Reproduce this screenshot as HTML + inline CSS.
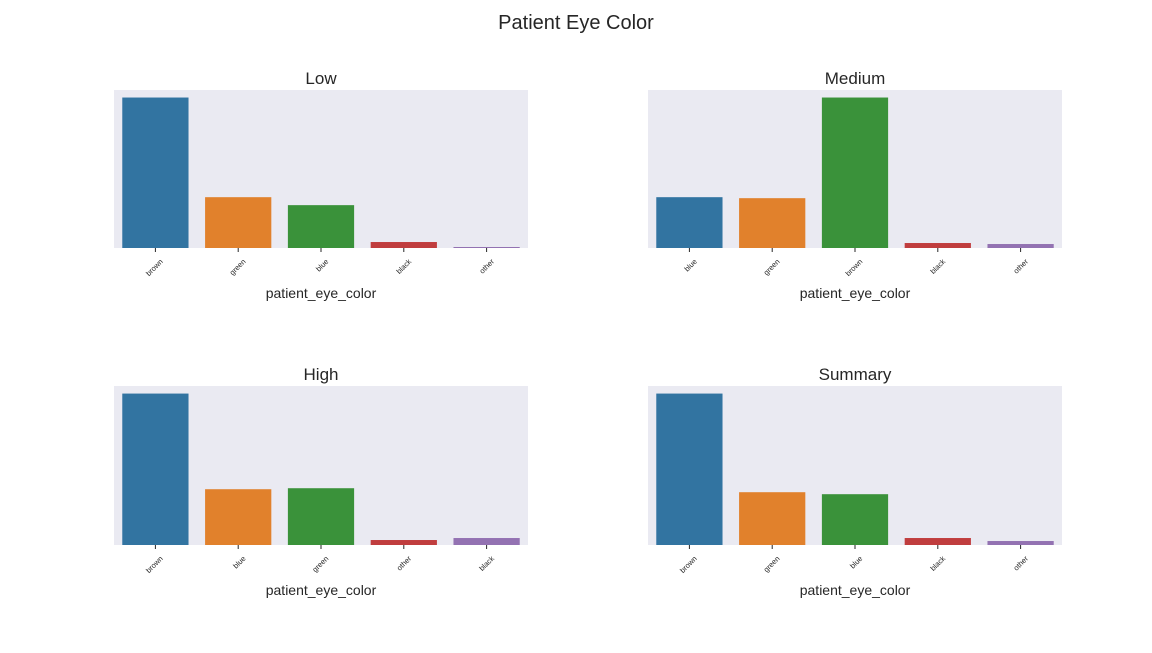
<!DOCTYPE html>
<html><head><meta charset="utf-8"><style>
body{margin:0;background:#fff;font-family:"Liberation Sans",Arial,sans-serif}
</style></head><body>
<svg id="chart" width="1152" height="648" xmlns="http://www.w3.org/2000/svg">
<text x="576" y="29" text-anchor="middle" font-size="20" fill="#262626" font-family="Liberation Sans, sans-serif">Patient Eye Color</text>
</svg>
<script>
const panelTitles = ["Low", "Medium", "High", "Summary"];
const lowCats = ["brown", "green", "blue", "black", "other"];
const lowVals = [151, 51, 43, 6, 1];
const medCats = ["blue", "green", "brown", "black", "other"];
const medVals = [51, 50, 151, 5, 4];
const highCats = ["brown", "blue", "green", "other", "black"];
const highVals = [152, 56, 57, 5, 7];
const sumCats = ["brown", "green", "blue", "black", "other"];
const sumVals = [152, 53, 51, 7, 4];
const colors = ["#3274a1", "#e1812c", "#3a923a", "#c03d3e", "#9372b2"];
const xLabel = "patient_eye_color";

const NS = "http://www.w3.org/2000/svg";
const svg = document.getElementById("chart");
function mk(tag, attrs, parent) {
  const e = document.createElementNS(NS, tag);
  for (const k in attrs) e.setAttribute(k, attrs[k]);
  (parent || svg).appendChild(e);
  return e;
}
const panels = [
  {x: 114, y: 90, h: 158, cats: lowCats, vals: lowVals},
  {x: 648, y: 90, h: 158, cats: medCats, vals: medVals},
  {x: 114, y: 386, h: 159, cats: highCats, vals: highVals},
  {x: 648, y: 386, h: 159, cats: sumCats, vals: sumVals}
];
const W = 414;
panels.forEach((p, i) => {
  const H = p.h;
  const g = mk("g", {});
  
  
  const bg = mk("rect", {x: p.x, y: p.y, width: W, height: H, fill: "#eaeaf2"}, g);
  
  
  const t = mk("text", {x: p.x + W / 2, y: p.y - 6, "text-anchor": "middle", "font-size": 17, fill: "#262626"}, g);
  t.textContent = panelTitles[i];
  
  
  const maxV = Math.max(...p.vals) * 1.05;
  const yScale = v => p.y + H - v / maxV * H;
  const band = W / p.cats.length;
  const xScale = k => p.x + band * k + band / 2;
  p.cats.forEach((c, k) => {
    const cx = xScale(k);
    const top = yScale(p.vals[k]);
    const r = mk("rect", {x: cx - band * 0.4, y: top, width: band * 0.8, height: p.y + H - top, fill: colors[k]}, g);
    
    
    const tk = mk("line", {x1: cx, x2: cx, y1: p.y + H, y2: p.y + H + 4, stroke: "#262626", "stroke-width": 1}, g);
    
    
    const lx = cx + 8, ly = p.y + H + 14;
    const lb = mk("text", {x: lx, y: ly, "text-anchor": "end", "font-size": 7.5, fill: "#262626", transform: `rotate(-45 ${lx} ${ly})`}, g);
    lb.textContent = c;
    
    
  });
  const xl = mk("text", {x: p.x + W / 2, y: p.y + H + 50, "text-anchor": "middle", "font-size": 14, fill: "#262626"}, g);
  xl.textContent = xLabel;
  
  
});
</script>
</body></html>
